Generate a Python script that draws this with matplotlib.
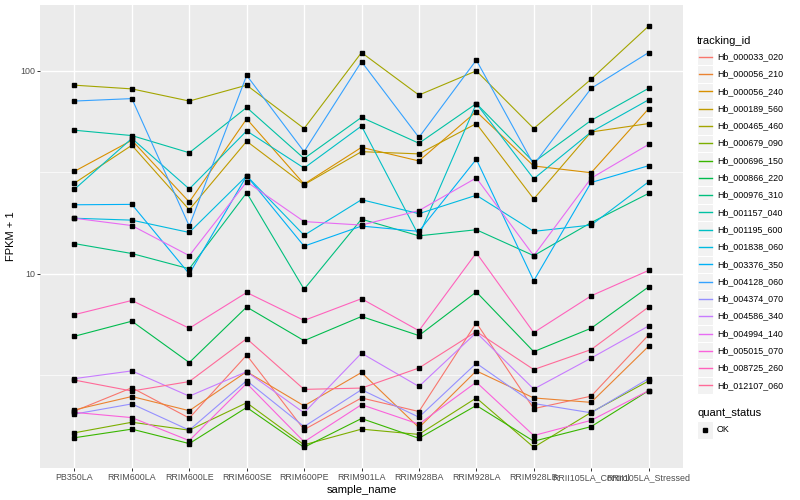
import numpy as np
import matplotlib
matplotlib.use("Agg")
import matplotlib.pyplot as plt
from matplotlib.ticker import NullFormatter
from matplotlib.patches import Rectangle
from matplotlib.lines import Line2D

plt.rcParams["font.family"] = ["Liberation Sans", "DejaVu Sans"]

samples = [
    "PB350LA", "RRIM600LA", "RRIM600LE", "RRIM600SE", "RRIM600PE", "RRIM901LA",
    "RRIM928BA", "RRIM928LA", "RRIM928LB", "RRII105LA_Control", "RRII105LA_Stressed",
]

tracking_ids = [
    "Hb_000033_020", "Hb_000056_210", "Hb_000056_240", "Hb_000189_560",
    "Hb_000465_460", "Hb_000679_090", "Hb_000696_150", "Hb_000866_220",
    "Hb_000976_310", "Hb_001157_040", "Hb_001195_600", "Hb_001838_060",
    "Hb_003376_350", "Hb_004128_060", "Hb_004374_070", "Hb_004586_340",
    "Hb_004994_140", "Hb_005015_070", "Hb_008725_260", "Hb_012107_060",
]

# FPKM + 1, one list per tracking_id, in sample order
hb_000033_020 = [2.11, 2.75, 1.95, 3.98, 1.71, 2.45, 2.10, 5.74, 2.17, 2.50, 5.0]
hb_000056_210 = [2.14, 2.49, 2.12, 3.30, 2.24, 3.27, 1.75, 3.33, 2.45, 2.33, 4.4]
hb_000056_240 = [32, 45.5, 22.6, 58, 27.7, 42, 36, 63, 34, 31.5, 65]
hb_000189_560 = [28, 43, 20.7, 45, 27.5, 40, 39, 55, 23.4, 50, 55]
hb_000465_460 = [85, 81.5, 71, 85, 52, 123, 76, 100, 52, 91, 166]
hb_000679_090 = [1.65, 1.86, 1.70, 2.32, 1.44, 1.72, 1.62, 2.45, 1.40, 2.08, 2.97]
hb_000696_150 = [1.56, 1.72, 1.46, 2.20, 1.40, 1.94, 1.55, 2.25, 1.50, 1.77, 2.66]
hb_000866_220 = [4.93, 5.85, 3.66, 6.87, 4.69, 6.17, 4.97, 8.15, 4.14, 5.40, 8.63]
hb_000976_310 = [14.1, 12.6, 10.6, 25.1, 8.4, 18.6, 15.4, 16.5, 12.3, 17.9, 24.9]
hb_001157_040 = [51, 48, 39.5, 66, 37, 59, 44, 69, 35.5, 57, 82]
hb_001195_600 = [26.1, 46.5, 26.2, 50.6, 33.2, 53.5, 15.4, 69, 29.4, 50, 72]
hb_001838_060 = [18.8, 18.4, 16.0, 30.4, 15.5, 23.2, 19.8, 24.4, 16.2, 17.4, 28.4]
hb_003376_350 = [21.9, 22.0, 10.0, 30.4, 13.7, 17.2, 16.2, 36.7, 9.25, 28.2, 34.1]
hb_004128_060 = [71, 73, 17.2, 95, 40, 111, 47, 113, 34.5, 82, 123]
hb_004374_070 = [2.04, 2.29, 1.70, 2.98, 1.77, 2.69, 1.97, 3.63, 2.30, 2.07, 3.05]
hb_004586_340 = [3.05, 3.33, 2.50, 3.30, 2.07, 4.07, 2.79, 5.14, 2.71, 3.85, 5.54]
hb_004994_140 = [18.8, 17.3, 12.3, 28.4, 18.1, 17.4, 20.5, 29.7, 12.3, 29.6, 43.4]
hb_005015_070 = [2.08, 1.96, 1.51, 2.89, 1.49, 2.27, 1.82, 2.93, 1.60, 1.90, 2.66]
hb_008725_260 = [6.3, 7.4, 5.4, 8.1, 5.9, 7.55, 5.25, 12.7, 5.14, 7.8, 10.4]
hb_012107_060 = [3.0, 2.65, 2.95, 4.8, 2.7, 2.74, 3.44, 5.2, 3.38, 4.24, 6.87]

series = [
    hb_000033_020, hb_000056_210, hb_000056_240, hb_000189_560, hb_000465_460,
    hb_000679_090, hb_000696_150, hb_000866_220, hb_000976_310, hb_001157_040,
    hb_001195_600, hb_001838_060, hb_003376_350, hb_004128_060, hb_004374_070,
    hb_004586_340, hb_004994_140, hb_005015_070, hb_008725_260, hb_012107_060,
]

quant_levels = ["OK"]


def hue_pal(n, l=65, c=100, h0=15):
    # ggplot2 default discrete palette (polar LUV -> sRGB)
    xn, yn, zn = 95.047, 100.0, 108.883
    t = xn + 15 * yn + 3 * zn
    un, vn = 4 * xn / t, 9 * yn / t
    m = np.array([[3.240479, -1.537150, -0.498535],
                  [-0.969256, 1.875992, 0.041556],
                  [0.055648, -0.204043, 1.057311]])
    out = []
    for i in range(n):
        h = np.radians(h0 + 360.0 * i / n)
        u, v = c * np.cos(h), c * np.sin(h)
        y = yn * ((l + 16) / 116.0) ** 3
        up = u / (13 * l) + un
        vp = v / (13 * l) + vn
        x = 9 * y * up / (4 * vp)
        z = -x / 3 - 5 * y + 3 * y / vp
        rgb = m @ (np.array([x, y, z]) / 100.0)
        rgb = np.where(rgb <= 0.0031308, 12.92 * rgb,
                       1.055 * np.abs(rgb) ** (1 / 2.4) - 0.055)
        out.append(tuple(float(v) for v in np.clip(rgb, 0, 1)))
    return out


colors = hue_pal(len(tracking_ids))

W, H = 800, 500
fig = plt.figure(figsize=(W / 100, H / 100), dpi=100)
fig.patch.set_facecolor("white")

px_l, px_r, px_t, px_b = 40, 683, 5, 468
ax = fig.add_axes([px_l / W, 1 - px_b / H, (px_r - px_l) / W, (px_b - px_t) / H])
ax.set_facecolor("#EBEBEB")
for s in ax.spines.values():
    s.set_visible(False)

x = np.arange(len(samples))
for vals, col in zip(series, colors):
    ax.plot(x, vals, color=col, lw=0.8, zorder=2)
for vals in series:
    ax.plot(x, vals, ls="none", marker="s", ms=2.2, color="black", zorder=3)

ax.set_yscale("log")
ax.set_ylim(1.107, 211)
ax.set_xlim(-0.6, len(samples) - 0.4)
ax.set_yticks([10, 100])
ax.set_yticklabels(["10", "100"])
ax.set_yticks([10 ** 0.5, 10 ** 1.5], minor=True)
ax.yaxis.set_minor_formatter(NullFormatter())
ax.set_xticks(x)
ax.set_xticklabels(samples)
ax.set_axisbelow(True)
ax.grid(which="major", color="white", lw=1.0)
ax.grid(which="minor", axis="y", color="white", lw=0.5)
ax.tick_params(which="major", length=2, width=0.7, color="#333333",
               labelsize=6.4, labelcolor="#4D4D4D", pad=1.6)
ax.tick_params(which="minor", length=0)
ax.set_xlabel("sample_name", fontsize=8, labelpad=2)
ax.set_ylabel("FPKM + 1", fontsize=8, labelpad=3)


def fx(px):
    return px / W


def fy(py):
    return 1 - py / H


# legend for tracking_id
fig.text(fx(697), fy(40.5), "tracking_id", fontsize=8, va="center", ha="left")
step = 17.3
for i, (tid, col) in enumerate(zip(tracking_ids, colors)):
    cy = 56.7 + i * step
    fig.add_artist(Rectangle((fx(697), fy(cy + step / 2)), 16 / W, step / H,
                             transform=fig.transFigure, facecolor="#F2F2F2",
                             edgecolor="white", lw=0.8, zorder=1))
    fig.add_artist(Line2D([fx(698.5), fx(711.5)], [fy(cy), fy(cy)],
                          transform=fig.transFigure, color=col, lw=1.0, zorder=2))
    fig.text(fx(717), fy(cy), tid, fontsize=6.4, va="center", ha="left")

# legend for quant_status
fig.text(fx(697), fy(413), "quant_status", fontsize=8, va="center", ha="left")
for i, lvl in enumerate(quant_levels):
    cy = 430 + i * step
    fig.add_artist(Rectangle((fx(697), fy(cy + step / 2)), 16 / W, step / H,
                             transform=fig.transFigure, facecolor="#F2F2F2",
                             edgecolor="white", lw=0.8, zorder=1))
    fig.add_artist(Line2D([fx(705)], [fy(cy)], transform=fig.transFigure,
                          ls="none", marker="s", ms=2.2, color="black", zorder=2))
    fig.text(fx(717), fy(cy), lvl, fontsize=6.4, va="center", ha="left")

fig.savefig("out.png", dpi=100)
